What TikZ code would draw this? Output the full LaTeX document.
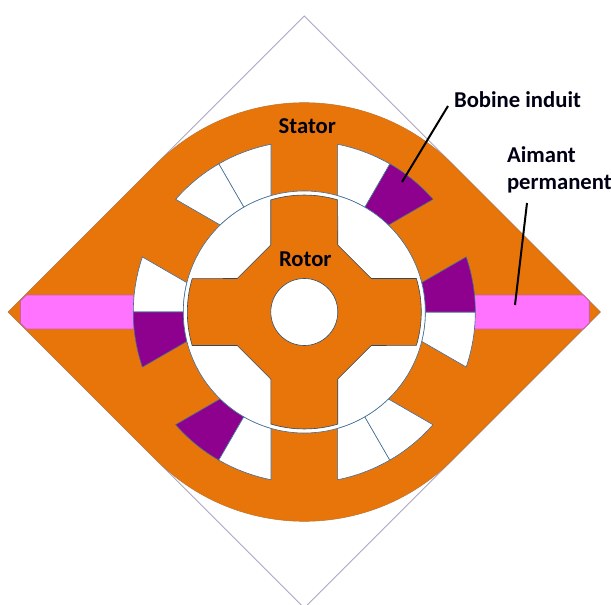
\documentclass[tikz,border=0pt]{standalone}
\usepackage{fontspec}
\setmainfont{Carlito}
\definecolor{statorcol}{HTML}{E8750A}
\definecolor{coilcol}{HTML}{8E008E}
\definecolor{magnetcol}{HTML}{FF73FF}
\definecolor{magnetedge}{HTML}{C8609A}
\definecolor{edgecol}{HTML}{3F6C96}
\definecolor{framecol}{HTML}{A9A6C0}
\tikzset{
  partlabel/.style={font=\fontsize{17}{20.5}\selectfont\bfseries, inner sep=0pt, text=black!92!blue},
  leader/.style={black, line width=1.5pt},
  outline/.style={draw=edgecol, line width=0.45pt},
  magnetbar/.style={fill=magnetcol, draw=magnetedge, line width=0.7pt, line join=miter}
}
% half of a slot: fill, middle angle, side (+1 or -1)
\newcommand{\halfslot}[3]{
  \filldraw[outline, fill=#1] (#2:121) -- (#2:171)
    arc[start angle=#2, end angle=#2+#3*18.77, radius=171]
    -- ({#2+#3*14.03}:121)
    arc[start angle=#2+#3*14.03, end angle=#2, radius=121] -- cycle;
}
\begin{document}
\begin{tikzpicture}[x=0.75pt,y=0.75pt]
  \useasboundingbox (-304.3,-292) rectangle (306.7,312);
  \clip (-304.3,-292) rectangle (306.7,312);
  \draw[framecol, line width=0.6pt] (-296,0) -- (0,296) -- (296,0) -- (0,-296) -- cycle;
  \filldraw[fill=statorcol, draw=statorcol!75!edgecol, line width=0.4pt]
    (-296,0) -- (135:209.3) arc[start angle=135, end angle=45, radius=209.3]
    -- (296,0) -- (-45:209.3) arc[start angle=-45, end angle=-135, radius=209.3] -- cycle;
  \draw[magnetbar] (170.2,17) -- (279,17) -- (285,11) -- (285,-11) -- (279,-17) -- (170.2,-17) -- cycle;
  \draw[magnetbar] (-170.2,17) -- (-278,17) -- (-284,11) -- (-284,-11) -- (-278,-17) -- (-170.2,-17) -- cycle;
  \foreach \ang/\lft/\rgt in {0/white/coilcol, 60/coilcol/white, 120/white/white,
      180/white/coilcol, 240/coilcol/white, 300/white/white}{
    \halfslot{\lft}{\ang}{-1}
    \halfslot{\rgt}{\ang}{1}
  }
  \filldraw[outline, fill=white] (0,0) circle (121);
  \filldraw[draw=edgecol!70!black, line width=0.45pt, fill=statorcol]
    (-33.5,67) -- (-33.5,112.1) arc[start angle=106.6, end angle=73.4, radius=117]
    -- (33.5,67) -- (67,33.5) -- (112.1,33.5) arc[start angle=16.6, end angle=-16.6, radius=117]
    -- (67,-33.5) -- (33.5,-67) -- (33.5,-112.1) arc[start angle=-73.4, end angle=-106.6, radius=117]
    -- (-33.5,-67) -- (-67,-33.5) -- (-112.1,-33.5) arc[start angle=196.6, end angle=163.4, radius=117]
    -- (-67,33.5) -- cycle;
  \filldraw[draw=edgecol!70!black, line width=0.45pt, fill=white] (0,0) circle (33.5);
  \node[partlabel] (stator) at (3,186) {Stator};
  \node[partlabel] (rotor) at (1,53) {Rotor};
  \node[partlabel, anchor=west] (bobine) at (149.5,212.5) {Bobine induit};
  \node[partlabel, anchor=west, align=left] (aimant) at (202.5,142) {Aimant\\permanent};
  \coordinate (bobineStart) at (143.7,206);
  \coordinate (bobineTip) at (97.7,130);
  \coordinate (aimantStart) at (222.7,109);
  \coordinate (aimantTip) at (210.7,7);
  \draw[leader] (bobineStart) -- (bobineTip);
  \draw[leader] (aimantStart) -- (aimantTip);
\end{tikzpicture}
\end{document}
